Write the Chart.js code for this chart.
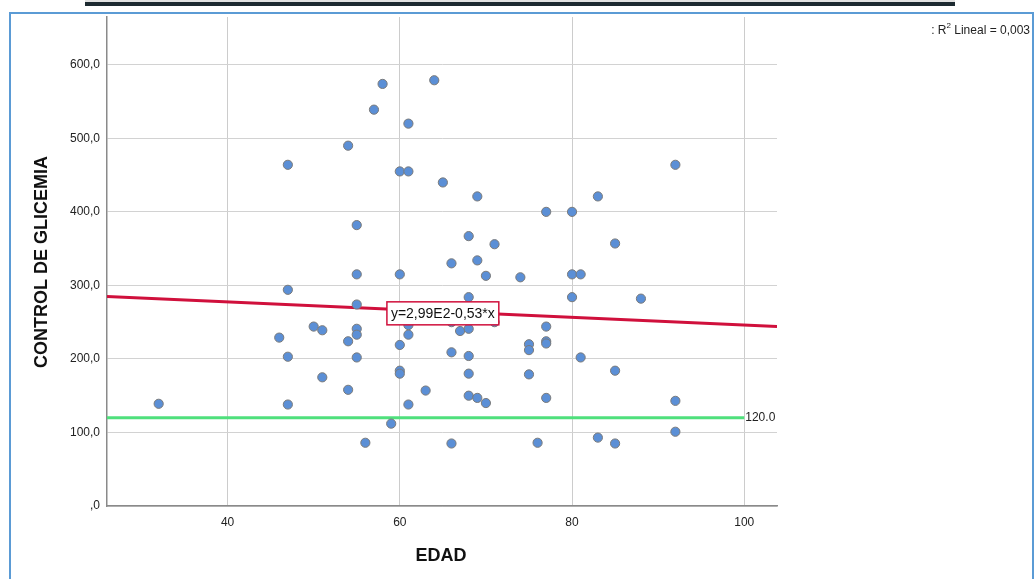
<!DOCTYPE html>
<html>
<head>
<meta charset="utf-8">
<script src="https://cdn.jsdelivr.net/npm/chart.js@4.4.1/dist/chart.umd.min.js"></script>
<style>
  body { margin: 0; background: #fff; }
  #marco { position: absolute; left: 9px; top: 12px; width: 1021px; height: 600px;
           border: 2.5px solid #5b9bd5; pointer-events: none; }
  #barra-gris { position: absolute; left: 85px; top: 0; width: 870px; height: 2px; background: #e2e2e2; }
  #barra-oscura { position: absolute; left: 85px; top: 2px; width: 870px; height: 4px; background: #1d2a31; }
  canvas { position: absolute; left: 0; top: 0; }
</style>
</head>
<body>
<div id="barra-gris"></div>
<div id="barra-oscura"></div>
<canvas id="grafico" width="1035" height="579"></canvas>
<div id="marco"></div>
<script>
// datos (EDAD vs CONTROL DE GLICEMIA)
const edad = [32, 46, 47, 47, 47, 47, 50, 51, 51, 54, 54, 54, 55, 55, 55, 55, 55, 55, 56, 57, 58, 59,
  60, 60, 60, 60, 60, 61, 61, 61, 61, 61, 63, 64, 65, 66, 66, 66, 66, 67, 68, 68, 68, 68, 68, 68,
  69, 69, 69, 70, 70, 71, 71, 74, 75, 75, 75, 76, 77, 77, 77, 77, 77, 80, 80, 80, 81, 81, 83, 83,
  85, 85, 85, 88, 92, 92, 92]
const glicemia = [139, 229, 464, 294, 203, 138, 244, 239, 175, 490, 224, 158, 382, 315, 274, 241, 233, 202, 86, 539, 574, 112,
  455, 315, 219, 184, 180, 520, 455, 246, 233, 138, 157, 579, 440, 330, 250, 209, 85, 238, 367, 284, 241, 204, 180, 150,
  421, 334, 147, 313, 140, 356, 250, 311, 220, 212, 179, 86, 400, 244, 224, 221, 147, 400, 315, 284, 315, 202, 421, 93,
  357, 184, 85, 282, 464, 143, 101]

// recta de ajuste (extremos leidos) y linea de referencia
const ajusteX = [26, 103.8]
const ajusteY = [285, 244]
const referenciaX = [26, 100]
const referenciaY = [120, 120]
const etiquetaAjuste = 'y=2,99E2-0,53*x'
const etiquetaR2 = ['R', '2', ' Lineal = 0,003']
const etiquetaRef = '120.0'

// marcas de los ejes
const ticksX = [40, 60, 80, 100]
const ticksY = [0, 100, 200, 300, 400, 500, 600]
const rangoX = [26, 103.8]
const rangoY = [0, 665]

const fuente = "'Liberation Sans', Arial, sans-serif"

const puntos = edad.map((e, i) => ({ x: e, y: glicemia[i] }))

// textos extra: titulos, caja de la ecuacion, R2 y etiqueta 120.0
const textosExtra = {
  id: 'textosExtra',
  afterDatasetsDraw(chart) {
    const ctx = chart.ctx
    const sx = chart.scales.x
    const sy = chart.scales.y
    ctx.save()

    // caja con la ecuacion sobre la recta
    const cx = sx.getPixelForValue(65)
    const cy = sy.getPixelForValue(262)
    ctx.font = '14px ' + fuente
    const w = ctx.measureText(etiquetaAjuste).width + 8
    const h = 23
    ctx.fillStyle = '#fff'
    ctx.fillRect(cx - w / 2, cy - h / 2, w, h)
    ctx.strokeStyle = '#d0103c'
    ctx.lineWidth = 1.5
    ctx.strokeRect(cx - w / 2, cy - h / 2, w, h)
    ctx.fillStyle = '#111'
    ctx.textAlign = 'center'
    ctx.textBaseline = 'middle'
    ctx.fillText(etiquetaAjuste, cx, cy + 1)

    // 120.0 al final de la linea verde
    ctx.font = '12px ' + fuente
    ctx.textAlign = 'left'
    ctx.fillStyle = '#222'
    ctx.fillText(etiquetaRef, sx.getPixelForValue(100) + 1, sy.getPixelForValue(120))

    // R2 arriba a la derecha, con el 2 en superindice
    ctx.textBaseline = 'alphabetic'
    const resto = etiquetaR2[2]
    const wResto = ctx.measureText(resto).width
    ctx.font = '8px ' + fuente
    const wDos = ctx.measureText(etiquetaR2[1]).width
    ctx.font = '12px ' + fuente
    const wR = ctx.measureText(': ' + etiquetaR2[0]).width
    let x0 = 1030 - wResto - wDos - wR
    ctx.fillText(': ' + etiquetaR2[0], x0, 34)
    ctx.fillText(resto, x0 + wR + wDos, 34)
    ctx.font = '8px ' + fuente
    ctx.fillText(etiquetaR2[1], x0 + wR, 28)

    // titulos de los ejes
    ctx.font = 'bold 18px ' + fuente
    ctx.fillStyle = '#111'
    ctx.textAlign = 'center'
    ctx.textBaseline = 'middle'
    ctx.fillText('EDAD', 441, 556)
    ctx.translate(42, 262)
    ctx.rotate(-Math.PI / 2)
    ctx.fillText('CONTROL DE GLICEMIA', 0, 0)
    ctx.restore()
  }
}

new Chart(document.getElementById('grafico'), {
  type: 'scatter',
  data: {
    datasets: [
      {
        data: puntos,
        backgroundColor: '#5b8fd6',
        borderColor: '#7a7a7a',
        borderWidth: 1,
        pointRadius: 4.6,
        pointHoverRadius: 4.6
      },
      {
        type: 'line',
        data: ajusteX.map((x, i) => ({ x, y: ajusteY[i] })),
        borderColor: '#d0103c',
        borderWidth: 3,
        pointRadius: 0,
        fill: false
      },
      {
        type: 'line',
        data: referenciaX.map((x, i) => ({ x, y: referenciaY[i] })),
        borderColor: '#4fe07c',
        borderWidth: 3,
        pointRadius: 0,
        fill: false
      }
    ]
  },
  options: {
    responsive: false,
    animation: false,
    layout: { padding: { left: 0, top: 17, right: 258, bottom: 0 } },
    scales: {
      x: {
        type: 'linear',
        min: rangoX[0],
        max: rangoX[1],
        ticks: { color: '#222', font: { size: 12, family: fuente }, padding: 9, maxRotation: 0 },
        afterBuildTicks: s => { s.ticks = ticksX.map(v => ({ value: v })) },
        afterFit: s => { s.height = 73 },
        grid: { color: '#cccccc', lineWidth: 1, drawTicks: false },
        border: { color: '#8a8a8a', width: 1.5 }
      },
      y: {
        min: rangoY[0],
        max: rangoY[1],
        ticks: {
          color: '#222',
          font: { size: 12, family: fuente },
          padding: 7,
          callback: v => (v === 0 ? ',0' : v.toFixed(1).replace('.', ','))
        },
        afterBuildTicks: s => { s.ticks = ticksY.map(v => ({ value: v })) },
        afterFit: s => { s.width = 107 },
        grid: { color: '#d2d2d2', lineWidth: 1, drawTicks: false },
        border: { color: '#8a8a8a', width: 1.5 }
      }
    },
    plugins: { legend: { display: false }, tooltip: { enabled: false } }
  },
  plugins: [textosExtra]
})
</script>
</body>
</html>
